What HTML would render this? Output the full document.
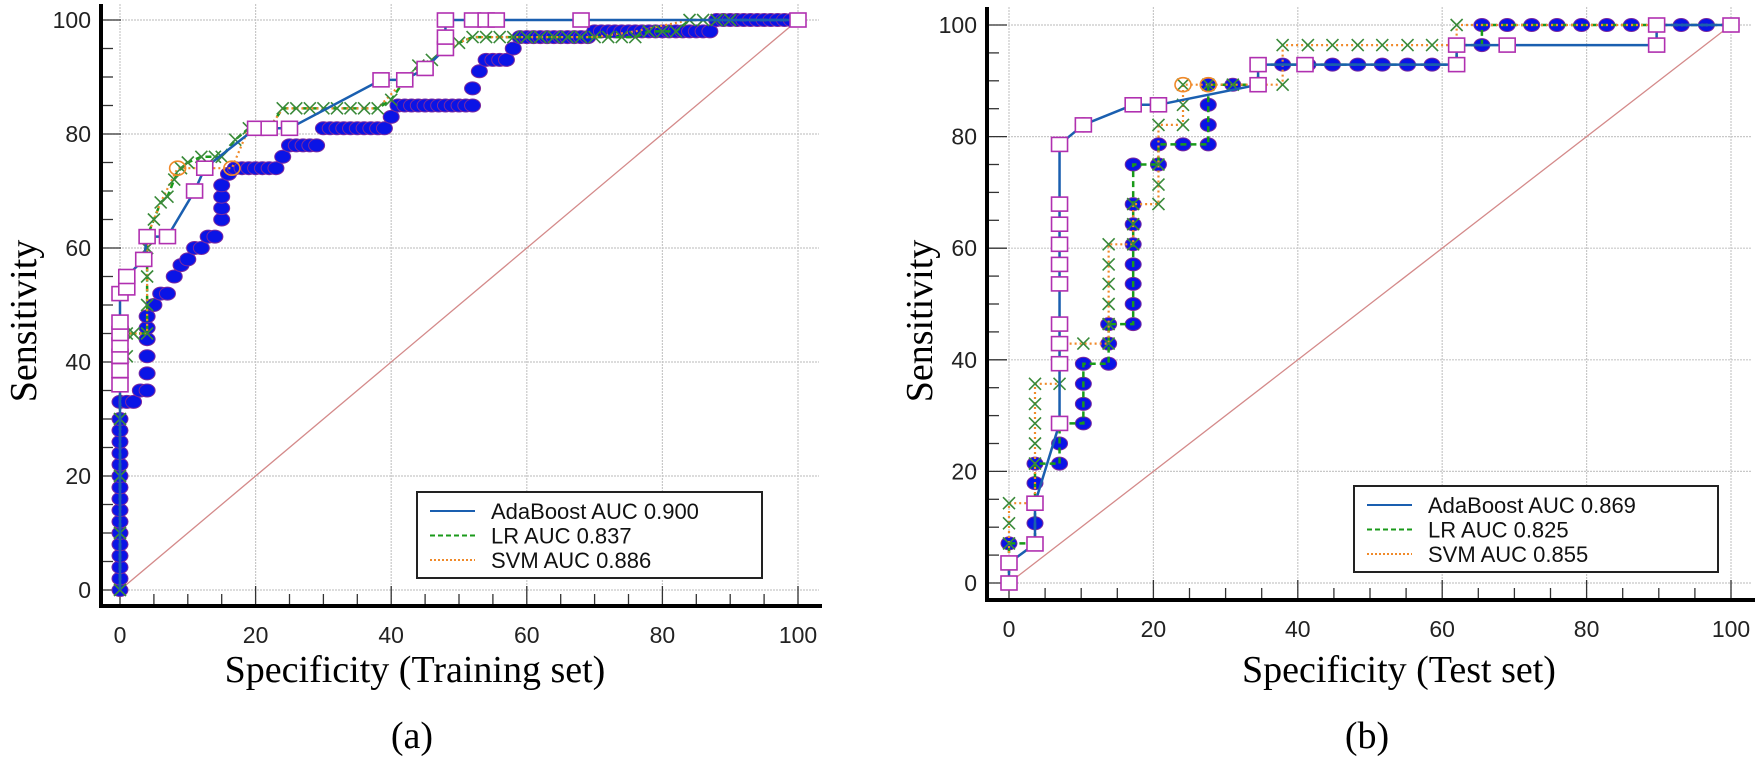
<!DOCTYPE html>
<html><head><meta charset="utf-8"><style>
html,body{margin:0;padding:0;background:#fff;}
svg{display:block;}
.tick{font-family:"Liberation Sans",sans-serif;font-size:23px;fill:#222;}
.title{font-family:"Liberation Serif",serif;font-size:38px;fill:#000;}
.leg{font-family:"Liberation Sans",sans-serif;font-size:22px;fill:#111;}
</style></head><body>
<svg id="fig" width="1755" height="762" viewBox="0 0 1755 762" xmlns="http://www.w3.org/2000/svg"></svg>
<script>
// ---------- Training set (a) ----------
const trainAdaX = [0,0,0,0,0,0,0,0,1,1,3.5,4,7,11,12.5,20,22,25,38.5,42,45,48,48,48,52,54,55.5,68,100];
const trainAdaY = [0,36,38.5,41,43,45,47,52,53,55,58,62,62,70,74,81,81,81,89.5,89.5,91.5,95,97,100,100,100,100,100,100];
const trainLrX = [0,0,0,0,0,1,1,2,4,4,4,4,4,5,6,7,8,9,10,12,14,15,17,19,21,22,24,26,28,30,32,34,36,38,40,42,44,46,48,50,52,54,56,58,60,62,64,66,68,70,72,74,76,78,80,82,84,86,88,90,100];
const trainLrY = [0,10,20,30,38,41,45,45,45,50,55,60,62,65,68,69,72,74,75,76,76,76,79,81,81,81,84.5,84.5,84.5,84.5,84.5,84.5,84.5,84.5,86,89.5,92,93,95,96,97,97,97,97,97,97,97,97,97,97,97,97,97,98,98,98,100,100,100,100,100];
const trainSvmX = [0,0,0,0,1,4,4,6,8.5,12,16.5,19,22,24,38,42,46,48,52,70,76,84,100];
const trainSvmY = [0,15,30,38,45,45,62,68,74,74,74,81,81,84.5,84.5,89.5,93,95,97,97,98,100,100];
const trainDotX = [0,0,0,0,0,0,0,0,0,0,0,0,0,0,0,0,0,1,2,3,4,4,4,4,4,4,5,6,7,8,9,10,11,12,13,14,15,15,15,15,16,17,18,19,20,21,22,23,24,25,26,27,28,29,30,31,32,33,34,35,36,37,38,39,40,41,42,43,44,45,46,47,48,49,50,51,52,52,53,54,55,56,57,58,59,60,61,62,63,64,65,66,67,68,69,70,71,72,73,74,75,76,77,78,79,80,81,82,83,84,85,86,87,88,89,90,91,92,93,94,95,96,97,98,99,100];
const trainDotY = [0,2,4,6,8,10,12,14,16,18,20,22,24,26,28,30,33,33,33,35,35,38,41,44,46,48,50,52,52,55,57,58,60,60,62,62,65,67,69,71,73,74,74,74,74,74,74,74,76,78,78,78,78,78,81,81,81,81,81,81,81,81,81,81,83,85,85,85,85,85,85,85,85,85,85,85,85,88,91,93,93,93,93,95,97,97,97,97,97,97,97,97,97,97,97,98,98,98,98,98,98,98,98,98,98,98,98,98,98,98,98,98,98,100,100,100,100,100,100,100,100,100,100,100,100,100];
// ---------- Test set (b) ----------
const testAdaX = [0,0,3.6,3.6,7,7,7,7,7,7,7,7,7,7,10.3,17.2,20.7,34.5,34.5,41,62,62,69,89.7,89.7,100];
const testAdaY = [0,3.6,7,14.3,28.6,39.3,42.9,46.4,53.6,57.1,60.7,64.3,67.9,78.6,82.1,85.7,85.7,89.3,92.9,92.9,92.9,96.4,96.4,96.4,100,100];
const testLrX = [0,0,0,3.6,3.6,3.6,3.6,3.6,7,7,7,10.3,10.3,10.3,10.3,13.8,13.8,13.8,17.2,17.2,17.2,17.2,17.2,17.2,17.2,17.2,20.7,20.7,24.1,27.6,27.6,27.6,27.6,31,34.5,34.5,37.9,41.4,44.8,48.3,51.7,55.2,58.6,62,62,65.5,65.5,69,72.4,75.9,79.3,82.8,86.2,89.7,93.1,96.6,100];
const testLrY = [0,3.6,7.1,7.1,10.7,14.3,17.9,21.4,21.4,25,28.6,28.6,32.1,35.7,39.3,39.3,42.9,46.4,46.4,50,53.6,57.1,60.7,64.3,67.9,75,75,78.6,78.6,78.6,82.1,85.7,89.3,89.3,89.3,92.9,92.9,92.9,92.9,92.9,92.9,92.9,92.9,92.9,96.4,96.4,100,100,100,100,100,100,100,100,100,100,100];
const testSvmX = [0,0,0,0,3.6,3.6,3.6,3.6,3.6,3.6,7,7,7,10.3,13.8,13.8,13.8,13.8,13.8,13.8,17.2,17.2,17.2,20.7,20.7,20.7,20.7,24.1,24.1,24.1,27.6,31,34.5,37.9,37.9,41.4,44.8,48.3,51.7,55.2,58.6,62,62,100];
const testSvmY = [0,7.1,10.7,14.3,14.3,21.4,25,28.6,32.1,35.7,35.7,39.3,42.9,42.9,42.9,46.4,50,53.6,57.1,60.7,60.7,64.3,67.9,67.9,71.4,75,82.1,82.1,85.7,89.3,89.3,89.3,89.3,89.3,96.4,96.4,96.4,96.4,96.4,96.4,96.4,96.4,100,100];
const ticks = [0,20,40,60,80,100];
const legendA = ["AdaBoost AUC 0.900","LR AUC 0.837","SVM AUC 0.886"];
const legendB = ["AdaBoost AUC 0.869","LR AUC 0.825","SVM AUC 0.855"];

const NS = "http://www.w3.org/2000/svg";
const fig = document.getElementById('fig');
function mk(tag, attrs, parent){const e=document.createElementNS(NS,tag);for(const k in attrs)e.setAttribute(k,attrs[k]);(parent||fig).appendChild(e);return e;}

function chart(cfg){
  const g = mk('g',{});
  
  
  const sx = v => cfg.x0 + (cfg.x1-cfg.x0)*v/100;
  const sy = v => cfg.y0 + (cfg.y1-cfg.y0)*v/100;
  ticks.forEach(t=>{
    const gl = mk('line',{x1:sx(t),x2:sx(t),y1:cfg.top,y2:cfg.axY,stroke:'#c8c8c8','stroke-width':1.2,'stroke-dasharray':'2 1'},g);
    
    
    const hl = mk('line',{x1:cfg.axX,x2:cfg.right,y1:sy(t),y2:sy(t),stroke:'#c8c8c8','stroke-width':1.2,'stroke-dasharray':'2 1'},g);
    
    
  });
  for(let v=0; v<=100; v+=5){
    const major = v%20===0;
    mk('line',{x1:cfg.axX,x2:cfg.axX+(major?20:12),y1:sy(v),y2:sy(v),stroke:'#333','stroke-width':1.3},g);
    mk('line',{x1:sx(v),x2:sx(v),y1:cfg.axY,y2:cfg.axY-(major?20:12),stroke:'#333','stroke-width':1.3},g);
  }
  const d = mk('line',{x1:sx(0),y1:sy(0),x2:sx(100),y2:sy(100),stroke:'#d48a8a','stroke-width':1.3},g);
  
  
  const pts=(X,Y)=>X.map((x,i)=>sx(x)+','+sy(Y[i])).join(' ');
  cfg.dotX.forEach((x,i)=>{
    const c = mk('ellipse',{cx:sx(x),cy:sy(cfg.dotY[i]),rx:8,ry:6.5,fill:'#0a14e6',stroke:'#7a2aa0','stroke-width':1},g);
    
    
  });
  const lr = mk('polyline',{points:pts(cfg.lrX,cfg.lrY),fill:'none',stroke:'#1a9a1a','stroke-width':2.5,'stroke-dasharray':'6 4'},g);
  
  
  const sv = mk('polyline',{points:pts(cfg.svX,cfg.svY),fill:'none',stroke:'#f08a2a','stroke-width':2.2,'stroke-dasharray':'2 3'},g);
  
  
  cfg.xmX.forEach((x,i)=>{
    const X=sx(x),Y=sy(cfg.xmY[i]);
    const p = mk('path',{d:`M${X-6} ${Y-6}L${X+6} ${Y+6}M${X+6} ${Y-6}L${X-6} ${Y+6}`,stroke:'#3a8a3a','stroke-width':1.6,fill:'none'},g);
    
    
  });
  cfg.circX.forEach((x,i)=>{
    const c = mk('ellipse',{cx:sx(x),cy:sy(cfg.circY[i]),rx:8,ry:7,fill:'none',stroke:'#f08a2a','stroke-width':1.6},g);
    
    
  });
  const ad = mk('polyline',{points:pts(cfg.adX,cfg.adY),fill:'none',stroke:'#1a5fb0','stroke-width':2.5},g);
  
  
  cfg.adX.forEach((x,i)=>{
    if(cfg.adY[i]===0 && cfg.skipZero) return;
    const r = mk('rect',{x:sx(x)-8,y:sy(cfg.adY[i])-7,width:16,height:14,fill:'#fff',stroke:'#b030b0','stroke-width':1.6},g);
    
    
  });
  const ya = mk('line',{x1:cfg.axX,x2:cfg.axX,y1:cfg.top,y2:cfg.axY+2,stroke:'#000','stroke-width':4},g);
  
  
  const xa = mk('line',{x1:cfg.axX-2,x2:cfg.right+3,y1:cfg.axY,y2:cfg.axY,stroke:'#000','stroke-width':4},g);
  
  
  ticks.forEach(t=>{
    const yl = mk('text',{x:cfg.axX-10,y:sy(t)+8,'text-anchor':'end',class:'tick'},g);
    yl.textContent=t;
    
    
    const xl = mk('text',{x:sx(t),y:cfg.axY+37,'text-anchor':'middle',class:'tick'},g);
    xl.textContent=t;
    
    
  });
  const yt = mk('text',{x:0,y:0,'text-anchor':'middle',class:'title',transform:`translate(${cfg.ytX},${cfg.ytY}) rotate(-90)`},g);
  yt.textContent='Sensitivity';
  
  
  const xt = mk('text',{x:cfg.xtX,y:682,'text-anchor':'middle',class:'title'},g);
  xt.textContent=cfg.xtitle;
  
  
  const pl = mk('text',{x:cfg.plX,y:748,'text-anchor':'middle',class:'title'},g);
  pl.textContent=cfg.panel;
  
  
  const lg = mk('g',{},g);
  
  
  mk('rect',{x:cfg.lx,y:cfg.ly,width:cfg.lw,height:86,fill:'#fff',stroke:'#222','stroke-width':2},lg);
  const styles=[{s:'#1a5fb0',d:''},{s:'#1a9a1a',d:'5 3'},{s:'#f08a2a',d:'2 2'}];
  cfg.legend.forEach((txt,i)=>{
    const yy = cfg.ly+19+i*24.5;
    const ln = mk('line',{x1:cfg.lx+13,x2:cfg.lx+58,y1:yy,y2:yy,stroke:styles[i].s,'stroke-width':2,'stroke-dasharray':styles[i].d},lg);
    
    
    const t = mk('text',{x:cfg.lx+74,y:yy+8,class:'leg'},lg);
    t.textContent=txt;
    
    
  });
}

chart({name:'chart-training',x0:120,x1:798,y0:590,y1:20,axX:101,axY:606,top:4,right:819,skipZero:true,
  adX:trainAdaX,adY:trainAdaY,lrX:trainLrX,lrY:trainLrY,svX:trainSvmX,svY:trainSvmY,
  dotX:trainDotX,dotY:trainDotY,xmX:trainLrX,xmY:trainLrY,circX:[8.5,16.5],circY:[74,74],
  ytX:36,ytY:321,xtX:415,xtitle:'Specificity (Training set)',plX:412,panel:'(a)',
  lx:417,ly:492,lw:345,legend:legendA});
chart({name:'chart-test',x0:1009,x1:1731,y0:583,y1:25,axX:987,axY:600,top:7,right:1752,skipZero:false,
  adX:testAdaX,adY:testAdaY,lrX:testLrX,lrY:testLrY,svX:testSvmX,svY:testSvmY,
  dotX:testLrX,dotY:testLrY,xmX:testSvmX,xmY:testSvmY,circX:[10.3,24.1,27.6],circY:[82.1,89.3,89.3],
  ytX:932,ytY:321,xtX:1399,xtitle:'Specificity (Test set)',plX:1367,panel:'(b)',
  lx:1354,ly:486,lw:364,legend:legendB});
</script>
</body></html>
